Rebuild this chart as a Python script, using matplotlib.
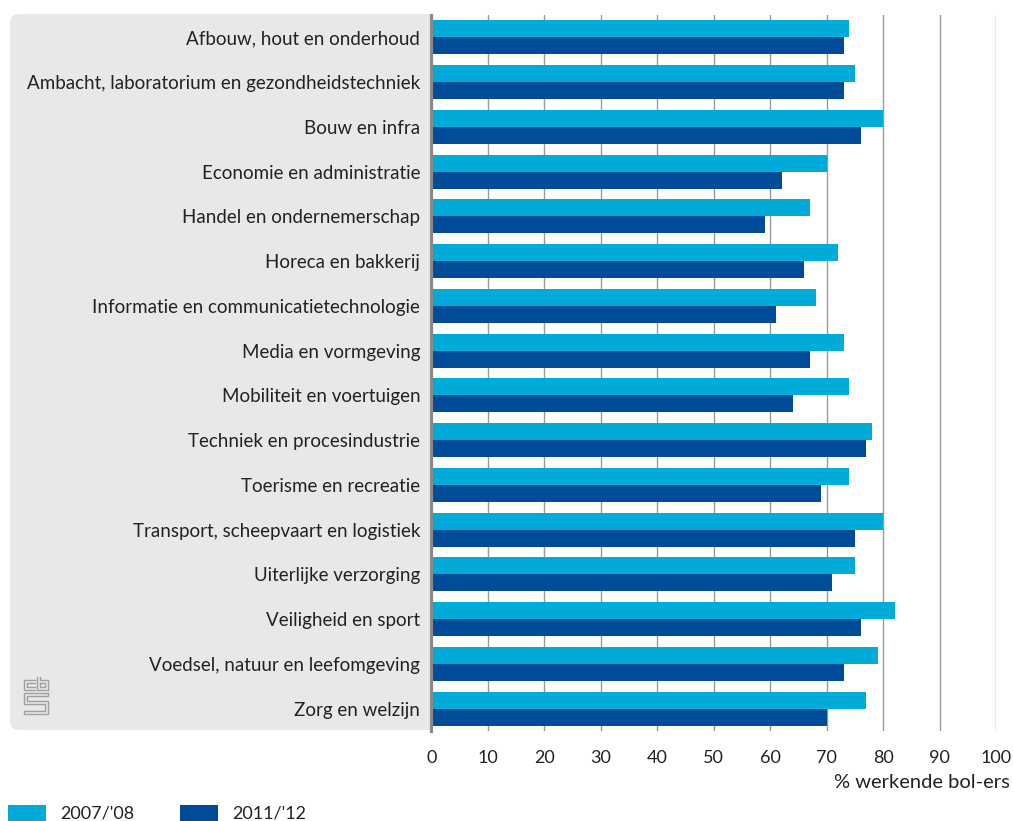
import matplotlib
matplotlib.use("Agg")
import matplotlib.pyplot as plt
from matplotlib.patches import FancyBboxPatch, Rectangle
from matplotlib.lines import Line2D
import numpy as np

categories = [
    "Afbouw, hout en onderhoud",
    "Ambacht, laboratorium en gezondheidstechniek",
    "Bouw en infra",
    "Economie en administratie",
    "Handel en ondernemerschap",
    "Horeca en bakkerij",
    "Informatie en communicatietechnologie",
    "Media en vormgeving",
    "Mobiliteit en voertuigen",
    "Techniek en procesindustrie",
    "Toerisme en recreatie",
    "Transport, scheepvaart en logistiek",
    "Uiterlijke verzorging",
    "Veiligheid en sport",
    "Voedsel, natuur en leefomgeving",
    "Zorg en welzijn",
]
values_2007 = [74, 75, 80, 70, 67, 72, 68, 73, 74, 78, 74, 80, 75, 82, 79, 77]
values_2011 = [73, 73, 76, 62, 59, 66, 61, 67, 64, 77, 69, 75, 71, 76, 73, 70]
series_labels = ["2007/'08", "2011/'12"]
xticks = [0, 10, 20, 30, 40, 50, 60, 70, 80, 90, 100]

LIGHT = "#00aad9"
DARK = "#004c99"
PANEL = "#e8e8e8"
TEXT = "#222222"
W, H = 1013, 821

plt.rcParams["font.family"] = ["Lato", "DejaVu Sans"]


def px(x, y):
    return x / W, 1 - y / H


fig = plt.figure(figsize=(W / 100, H / 100), dpi=100)

# grey label panel behind the category names
panel = FancyBboxPatch(px(10, 730), 430 / W, 716 / H,
                       boxstyle="round,pad=0,rounding_size=0.01",
                       transform=fig.transFigure, facecolor=PANEL,
                       edgecolor="none", zorder=0)
fig.patches.append(panel)

ax = fig.add_axes([431.3 / W, 1 - 731 / H, 565 / W, 716 / H])
ax.set_zorder(1)

y = np.arange(len(categories))
h = 0.375
ax.barh(y - 0.19, values_2007, height=h, color=LIGHT, label=series_labels[0], zorder=3)
ax.barh(y + 0.19, values_2011, height=h, color=DARK, label=series_labels[1], zorder=3)

ax.set_xlim(0, 100)
ax.set_ylim(len(categories) - 0.5, -0.5)
ax.set_xticks(xticks)
ax.set_yticks(y)
ax.set_yticklabels(categories)
ax.tick_params(axis="y", length=0, pad=8, labelsize=13.5, labelcolor=TEXT)
ax.tick_params(axis="x", length=0, pad=14, labelsize=13, labelcolor=TEXT)
ax.grid(axis="x", color="#999999", linewidth=1, zorder=0)
ax.set_axisbelow(True)
for side in ["top", "right", "bottom"]:
    ax.spines[side].set_visible(False)
ax.spines["left"].set_color("#8a8a8a")
ax.spines["left"].set_linewidth(2.3)
ax.spines["left"].set_zorder(5)

fig.text(*px(1010, 782), "% werkende bol-ers", ha="right", va="center",
         fontsize=14.5, color=TEXT)

# legend along the bottom edge
for (x0, col, lab) in [(8, LIGHT, series_labels[0]), (180, DARK, series_labels[1])]:
    fig.patches.append(Rectangle(px(x0, 821), 38 / W, 16 / H,
                                 transform=fig.transFigure, facecolor=col,
                                 edgecolor="none"))
    fig.text(*px(x0 + 52, 813), lab, ha="left", va="center",
             fontsize=13, color=TEXT)

# small cbs logo
logo = [
    [(35, 680), (24, 680), (24, 690), (35, 690)],
    [(35, 683), (27, 683), (27, 687), (35, 687)],
    [(37, 677), (37, 690), (48, 690), (48, 680), (40, 680), (40, 677)],
    [(40, 683), (45, 683), (45, 687), (40, 687), (40, 683)],
    [(48, 693), (24, 693), (24, 704), (45, 704), (45, 711), (24, 711), (24, 714), (48, 714),
     (48, 701), (27, 701), (27, 696), (48, 696), (48, 693)],
]
for pts in logo:
    xs, ys = zip(*[px(a, b) for a, b in pts])
    fig.lines.append(Line2D(xs, ys, transform=fig.transFigure,
                            color="#a0a0a0", linewidth=1.0))

fig.savefig("out.png", dpi=100)
